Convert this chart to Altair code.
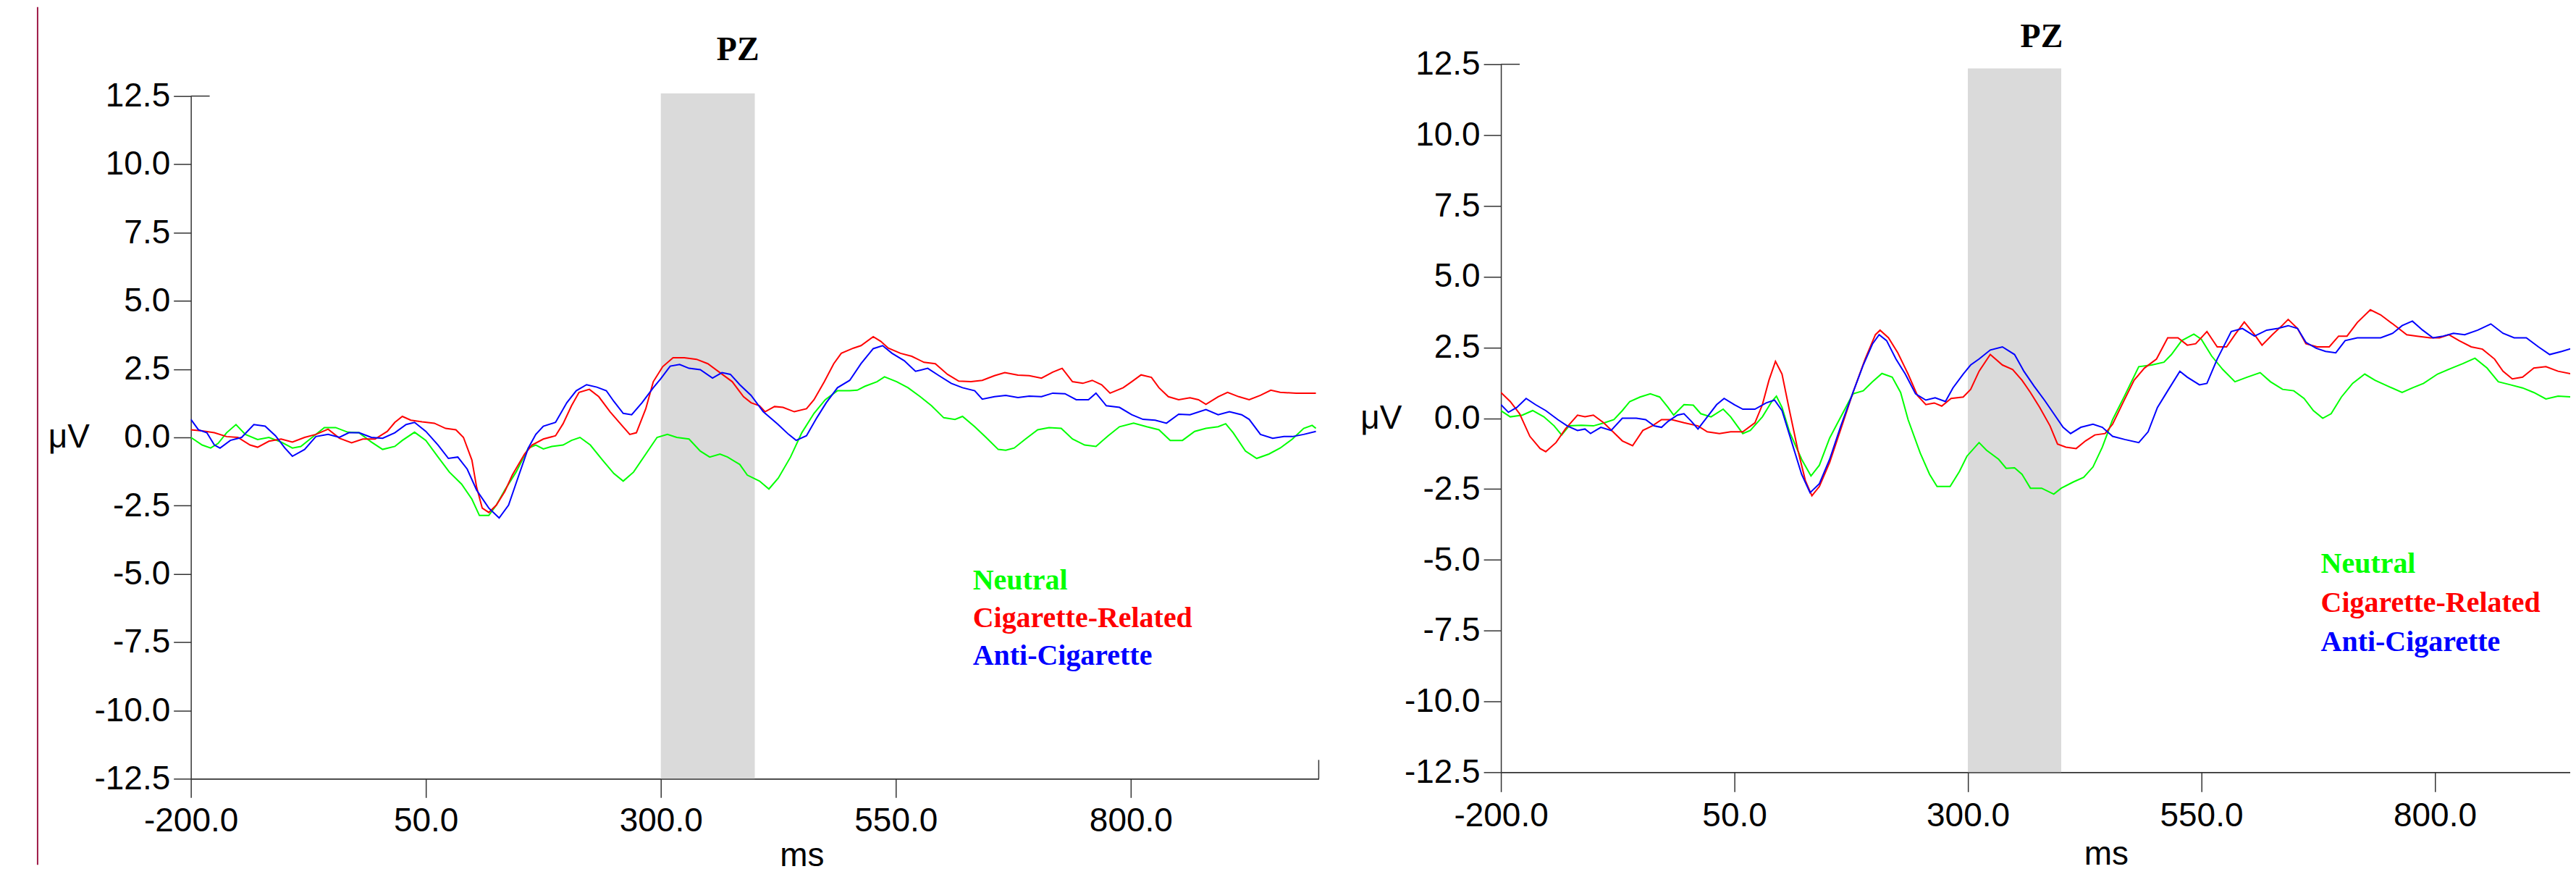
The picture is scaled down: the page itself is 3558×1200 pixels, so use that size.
import altair as alt
import pandas as pd

SERIES = ["Neutral", "Cigarette-Related", "Anti-Cigarette"]
COLORS = ["#00FF00", "#FF0000", "#0000FF"]
X_TICKS = [-200, 50, 300, 550, 800]
Y_TICKS = [-12.5, -10, -7.5, -5, -2.5, 0, 2.5, 5, 7.5, 10, 12.5]
WINDOW = [300, 400]
TITLE = "PZ"

# ---- left panel (ms, microvolts) ----
L_NEUTRAL = [(-200,0.00),(-188,-0.28),(-179,-0.39),(-171,-0.22),(-162,0.17),(-152,0.47),(-142,0.11),(-129,-0.08),(-117,0.00),(-104,-0.17),(-92,-0.39),(-83,-0.33),(-71,0.00),(-58,0.36),(-46,0.36),(-33,0.19),(-21,0.17),(-8,-0.17),(4,-0.44),(17,-0.33),(25,-0.11),(38,0.19),(50,-0.11),(63,-0.72),(75,-1.27),(88,-1.71),(99,-2.26),(107,-2.86),(117,-2.86),(125,-2.48),(134,-1.93),(146,-1.27),(159,-0.39),(167,-0.28),(175,-0.42),(184,-0.33),(196,-0.28),(205,-0.11),(214,0.00),(225,-0.28),(238,-0.83),(250,-1.32),(260,-1.60),(271,-1.27),(284,-0.61),(296,0.00),(307,0.11),(317,0.00),(330,-0.06),(342,-0.50),(352,-0.72),(363,-0.61),(371,-0.72),(384,-0.99),(392,-1.38),(405,-1.60),(415,-1.89),(425,-1.49),(438,-0.72),(450,0.17),(463,0.88),(475,1.38),(488,1.71),(501,1.71),(509,1.73),(517,1.87),(530,2.04),(538,2.22),(551,2.04),(563,1.82),(576,1.49),(588,1.16),(601,0.72),(613,0.66),(621,0.77),(634,0.39),(646,0.00),(659,-0.44),(667,-0.47),(676,-0.39),(688,-0.06),(701,0.28),(713,0.36),(726,0.33),(738,-0.06),(751,-0.28),(763,-0.33),(776,0.06),(788,0.39),(803,0.52),(817,0.39),(830,0.28),(842,-0.11),(855,-0.11),(868,0.22),(880,0.33),(893,0.39),(901,0.50),(909,0.17),(922,-0.50),(934,-0.77),(947,-0.61),(959,-0.39),(972,-0.06),(984,0.33),(993,0.44),(997,0.33)]
L_CIG = [(-200,0.28),(-188,0.24),(-175,0.17),(-162,0.03),(-150,0.00),(-137,-0.28),(-129,-0.36),(-117,-0.14),(-104,-0.06),(-92,-0.17),(-79,0.00),(-67,0.11),(-54,0.30),(-42,-0.03),(-29,-0.20),(-17,-0.06),(-4,-0.06),(9,0.22),(17,0.55),(25,0.77),(34,0.63),(46,0.57),(59,0.52),(71,0.33),(82,0.28),(90,0.00),(99,-0.83),(104,-1.82),(110,-2.59),(117,-2.75),(125,-2.48),(134,-1.98),(142,-1.38),(155,-0.61),(163,-0.28),(175,-0.06),(188,0.06),(196,0.50),(205,1.16),(213,1.65),(224,1.76),(234,1.49),(246,0.94),(257,0.50),(267,0.11),(274,0.17),(284,1.05),(292,2.04),(302,2.59),(313,2.92),(325,2.92),(338,2.86),(350,2.70),(363,2.37),(376,2.04),(388,1.49),(396,1.27),(405,1.16),(411,0.94),(421,1.13),(430,1.10),(442,0.94),(455,1.05),(463,1.38),(474,2.04),(484,2.70),(492,3.08),(505,3.27),(513,3.36),(526,3.69),(534,3.52),(542,3.27),(555,3.08),(567,2.97),(580,2.75),(592,2.70),(605,2.31),(617,2.06),(630,2.04),(642,2.09),(655,2.26),(666,2.37),(680,2.28),(692,2.26),(705,2.17),(717,2.39),(727,2.53),(738,2.04),(749,1.98),(759,2.09),(769,1.93),(778,1.62),(792,1.82),(801,2.04),(811,2.29),(822,2.20),(830,1.82),(840,1.49),(851,1.38),(863,1.45),(872,1.38),(880,1.21),(893,1.49),(903,1.65),(915,1.49),(926,1.38),(938,1.54),(949,1.73),(959,1.65),(976,1.62),(997,1.62)]
L_ANTI = [(-200,0.66),(-192,0.28),(-183,0.17),(-175,-0.28),(-169,-0.39),(-158,-0.11),(-146,0.00),(-133,0.47),(-121,0.41),(-110,0.06),(-100,-0.39),(-92,-0.69),(-79,-0.44),(-67,0.03),(-54,0.11),(-42,0.00),(-32,0.17),(-21,0.17),(-8,0.00),(4,-0.03),(17,0.17),(29,0.47),(38,0.55),(50,0.22),(63,-0.28),(74,-0.77),(84,-0.72),(94,-1.16),(104,-1.93),(117,-2.59),(128,-2.95),(138,-2.48),(149,-1.38),(159,-0.39),(167,0.11),(175,0.41),(188,0.55),(200,1.27),(210,1.71),(221,1.93),(232,1.84),(242,1.71),(250,1.32),(260,0.88),(269,0.83),(280,1.27),(292,1.82),(300,2.15),(310,2.61),(320,2.67),(330,2.53),(342,2.48),(355,2.17),(365,2.37),(374,2.31),(384,1.93),(396,1.54),(409,0.94),(424,0.50),(436,0.11),(444,-0.11),(455,0.06),(466,0.72),(476,1.27),(488,1.82),(501,2.09),(513,2.70),(526,3.25),(536,3.36),(546,3.08),(559,2.81),(571,2.42),(584,2.53),(596,2.26),(609,1.98),(621,1.82),(634,1.71),(642,1.40),(655,1.49),(667,1.54),(680,1.46),(692,1.51),(705,1.49),(717,1.62),(730,1.60),(742,1.38),(755,1.38),(763,1.62),(774,1.16),(788,1.10),(801,0.83),(813,0.66),(826,0.63),(838,0.52),(851,0.85),(863,0.83),(880,1.02),(893,0.83),(905,0.94),(918,0.83),(926,0.66),(938,0.11),(951,-0.03),(963,0.03),(972,0.03),(984,0.11),(997,0.22)]

# ---- right panel (ms, microvolts) ----
R_NEUTRAL = [(-200,0.27),(-190,0.05),(-177,0.11),(-166,0.27),(-154,0.05),(-143,-0.27),(-135,-0.59),(-127,-0.27),(-114,-0.25),(-101,-0.27),(-89,-0.16),(-79,-0.05),(-70,0.27),(-62,0.59),(-51,0.75),(-40,0.86),(-30,0.75),(-21,0.38),(-15,0.11),(-4,0.48),(6,0.46),(14,0.16),(25,0.05),(38,0.32),(46,0.05),(59,-0.54),(67,-0.43),(80,0.05),(90,0.59),(95,0.78),(101,0.38),(109,-0.48),(122,-1.45),(132,-2.04),(141,-1.66),(152,-0.70),(164,0.05),(177,0.86),(188,0.97),(198,1.29),(208,1.58),(219,1.45),(228,0.91),(236,-0.05),(249,-1.23),(259,-1.98),(267,-2.41),(281,-2.41),(291,-1.88),(299,-1.34),(312,-0.86),(320,-1.13),(333,-1.45),(341,-1.77),(350,-1.75),(358,-1.98),(367,-2.47),(379,-2.47),(392,-2.68),(400,-2.47),(413,-2.25),(424,-2.09),(434,-1.72),(444,-1.02),(455,-0.05),(468,0.80),(483,1.82),(497,1.88),(510,1.98),(518,2.25),(529,2.74),(542,2.97),(550,2.79),(561,2.20),(573,1.72),(586,1.29),(599,1.45),(613,1.61),(624,1.29),(637,1.02),(649,0.97),(660,0.70),(670,0.27),(680,0.00),(689,0.16),(700,0.75),(712,1.23),(725,1.56),(736,1.34),(750,1.13),(765,0.91),(776,1.07),(788,1.23),(803,1.56),(818,1.77),(830,1.93),(843,2.12),(856,1.77),(868,1.29),(881,1.18),(894,1.07),(906,0.91),(919,0.68),(932,0.78),(947,0.75)]
R_CIG = [(-200,0.91),(-190,0.59),(-180,0.16),(-169,-0.64),(-158,-1.07),(-152,-1.18),(-141,-0.86),(-131,-0.38),(-118,0.11),(-110,0.05),(-101,0.11),(-90,-0.16),(-80,-0.48),(-70,-0.80),(-59,-0.97),(-48,-0.43),(-38,-0.27),(-28,-0.05),(-17,-0.05),(-4,-0.16),(11,-0.27),(21,-0.48),(34,-0.54),(46,-0.48),(59,-0.48),(72,-0.16),(80,0.48),(87,1.34),(94,2.01),(101,1.56),(109,0.27),(118,-1.13),(126,-2.20),(133,-2.74),(141,-2.41),(152,-1.56),(164,-0.38),(177,0.91),(190,2.09),(201,2.95),(206,3.11),(215,2.84),(225,2.31),(236,1.56),(246,0.80),(255,0.48),(264,0.54),(272,0.43),(282,0.70),(295,0.75),(303,1.02),(312,1.66),(324,2.25),(337,1.88),(348,1.72),(358,1.34),(367,0.91),(377,0.38),(388,-0.27),(396,-0.91),(405,-1.02),(416,-1.07),(426,-0.80),(436,-0.59),(447,-0.54),(455,-0.21),(466,0.54),(478,1.34),(489,1.77),(502,2.09),(514,2.84),(525,2.84),(535,2.58),(544,2.63),(556,3.06),(567,2.52),(577,2.52),(586,2.95),(596,3.40),(607,2.95),(615,2.58),(626,2.95),(637,3.29),(643,3.49),(653,3.17),(662,2.63),(674,2.52),(687,2.52),(697,2.90),(706,2.90),(717,3.38),(731,3.83),(742,3.65),(755,3.33),(770,2.95),(781,2.90),(795,2.84),(805,2.84),(815,2.95),(826,2.74),(839,2.52),(851,2.44),(864,2.09),(873,1.66),(883,1.39),(894,1.45),(906,1.77),(919,1.82),(932,1.66),(947,1.56)]
R_ANTI = [(-200,0.48),(-192,0.21),(-183,0.38),(-173,0.70),(-163,0.48),(-152,0.27),(-139,-0.05),(-129,-0.27),(-118,-0.43),(-110,-0.38),(-104,-0.54),(-93,-0.32),(-82,-0.43),(-70,0.00),(-55,0.00),(-45,-0.05),(-36,-0.27),(-28,-0.32),(-21,-0.11),(-11,0.11),(-4,0.16),(4,-0.11),(11,-0.38),(21,0.05),(31,0.48),(39,0.70),(50,0.48),(59,0.32),(72,0.32),(84,0.54),(93,0.64),(101,0.27),(112,-0.91),(122,-1.98),(131,-2.63),(141,-2.31),(152,-1.45),(164,-0.27),(177,0.91),(188,1.88),(198,2.63),(205,2.95),(213,2.74),(223,2.09),(233,1.56),(244,0.86),(255,0.64),(265,0.72),(276,0.59),(284,1.07),(295,1.56),(303,1.88),(312,2.09),(324,2.41),(337,2.52),(350,2.25),(360,1.66),(371,1.13),(382,0.64),(392,0.16),(402,-0.32),(410,-0.54),(421,-0.32),(434,-0.21),(444,-0.32),(455,-0.64),(468,-0.75),(483,-0.86),(493,-0.48),(503,0.38),(514,0.97),(527,1.66),(535,1.45),(548,1.18),(556,1.23),(567,2.09),(582,3.06),(594,3.17),(607,2.90),(620,3.11),(632,3.17),(643,3.27),(653,3.17),(662,2.68),(673,2.47),(683,2.36),(694,2.31),(704,2.74),(717,2.84),(729,2.84),(742,2.84),(755,3.00),(765,3.27),(776,3.43),(787,3.11),(798,2.84),(809,2.90),(820,3.00),(832,2.95),(846,3.11),(860,3.33),(873,3.00),(885,2.84),(898,2.84),(911,2.52),(923,2.25),(936,2.36),(947,2.47)]

# legend label anchors (ms, microvolt baselines) and title anchors
L_LEGEND_X = 632
L_LEGEND_Y = [-5.56, -6.94, -8.32]
R_LEGEND_X = 678
R_LEGEND_Y = [-5.45, -6.83, -8.21]
L_TITLE_POS = (382, 13.82)
R_TITLE_POS = (379, 13.11)

SANS = "Liberation Sans"
SERIF = "Liberation Serif"
AXIS_COLOR = "#333333"
LABEL_EXPR = "replace(format(datum.value, '.1f'), '\u2212', '-')"

color_enc = alt.Color("series:N", scale=alt.Scale(domain=SERIES, range=COLORS), legend=None)


def long_df(groups):
    rows = []
    for name, pts in zip(SERIES, groups):
        for t, v in pts:
            rows.append({"series": name, "ms": t, "uv": v})
    return pd.DataFrame(rows)


def panel(groups, xdom, width, height, yrange, band_hi, legend_x, legend_y,
          title_pos, xtitle_x, xtitle_y, ytitle_x, ytitle_y, xtick, xlabpad,
          extra_rules):
    xs = alt.Scale(domain=xdom, nice=False, zero=False)
    ys = alt.Scale(domain=[-12.5, 12.5], range=yrange, nice=False, zero=False)
    xaxis = alt.Axis(values=X_TICKS, labelExpr=LABEL_EXPR, title="ms", grid=False,
                     labelFont=SANS, labelFontSize=46, labelColor="black",
                     labelPadding=xlabpad, tickSize=xtick, tickColor=AXIS_COLOR,
                     tickWidth=1.5, domainColor=AXIS_COLOR, domainWidth=1.8,
                     labelOverlap=False, labelFlush=False,
                     titleFont=SANS, titleFontSize=46, titleFontWeight="normal",
                     titleColor="black", titleX=xtitle_x, titleY=xtitle_y,
                     titleAlign="center", titleBaseline="alphabetic")
    yaxis = alt.Axis(values=Y_TICKS, labelExpr=LABEL_EXPR, title="μV", grid=False,
                     labelFont=SANS, labelFontSize=46, labelColor="black",
                     labelPadding=5, tickSize=24, tickColor=AXIS_COLOR,
                     tickWidth=1.5, domainColor=AXIS_COLOR, domainWidth=1.5,
                     labelOverlap=False, labelFlush=False,
                     titleFont=SANS, titleFontSize=46, titleFontWeight="normal",
                     titleColor="black", titleAngle=0, titleX=ytitle_x,
                     titleY=ytitle_y, titleAlign="center", titleBaseline="middle")
    X = lambda f: alt.X(f, scale=xs, axis=xaxis)
    Y = lambda f: alt.Y(f, scale=ys, axis=yaxis)

    band_df = pd.DataFrame({"ms": [WINDOW[0]], "ms2": [WINDOW[1]],
                            "uv": [-12.5], "uv2": [band_hi]})
    band = alt.Chart(band_df).mark_rect(color="#DADADA").encode(
        x=X("ms:Q"), x2="ms2", y=Y("uv:Q"), y2="uv2")

    lines = alt.Chart(long_df(groups)).mark_line(strokeWidth=2, clip=True).encode(
        x=X("ms:Q"), y=Y("uv:Q"), color=color_enc, detail="series:N",
        order="ms:Q")

    leg_df = pd.DataFrame({"series": SERIES, "ms": [legend_x] * 3, "uv": legend_y})
    legend = alt.Chart(leg_df).mark_text(
        align="left", baseline="alphabetic", font=SERIF, fontWeight="bold",
        fontSize=40).encode(x=X("ms:Q"), y=Y("uv:Q"), text="series:N",
                            color=color_enc)

    t_df = pd.DataFrame({"label": [TITLE], "ms": [title_pos[0]], "uv": [title_pos[1]]})
    title = alt.Chart(t_df).mark_text(
        align="center", baseline="alphabetic", font=SERIF, fontWeight="bold",
        fontSize=46, color="black").encode(x=X("ms:Q"), y=Y("uv:Q"), text="label:N")

    top_df = pd.DataFrame({"uv": [12.5]})
    top_tick = alt.Chart(top_df).mark_rule(color=AXIS_COLOR, strokeWidth=1.5).encode(
        x=alt.value(0), x2=alt.value(26), y=Y("uv:Q"))

    layers = [band, lines, legend, title, top_tick] + extra_rules(X, Y)
    return alt.layer(*layers).properties(width=width, height=height)


def left_extras(X, Y):
    one = pd.DataFrame({"ms": [1000]})
    end_tick = alt.Chart(one).mark_rule(color=AXIS_COLOR, strokeWidth=1.5).encode(
        x=X("ms:Q"), y=alt.value(962), y2=alt.value(988))
    border = alt.Chart(one).mark_rule(color="#9E1A47", strokeWidth=2).encode(
        x=alt.value(-212), y=alt.value(-79), y2=alt.value(1107))
    return [end_tick, border]


def right_extras(X, Y):
    return []


left = panel([L_NEUTRAL, L_CIG, L_ANTI], [-200, 1000], 1560, 988, [988, 44], 12.6,
             L_LEGEND_X, L_LEGEND_Y, L_TITLE_POS, 845, 120, -169, 516, 26, 10,
             left_extras)
right = panel([R_NEUTRAL, R_CIG, R_ANTI], [-200, 945], 1479, 979, [979, 0], 12.35,
              R_LEGEND_X, R_LEGEND_Y, R_TITLE_POS, 837, 127, -166, 489.5, 27, 11,
              right_extras)

chart = alt.hconcat(left, right, spacing=252, bounds="flush").properties(
    padding={"left": 43, "top": 0, "right": 0, "bottom": 0},
    background="white",
).configure_view(strokeOpacity=0)

chart.save("out.html", embed_options={"renderer": "svg", "actions": False})
